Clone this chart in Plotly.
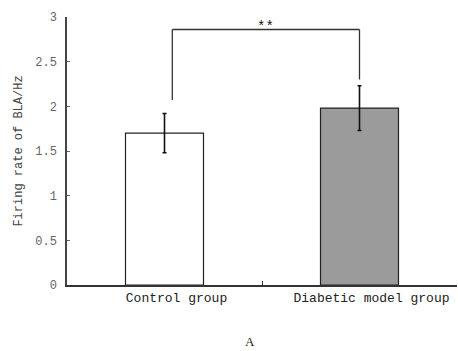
import plotly.graph_objects as go

categories = ["Control group", "Diabetic model group"]
values = [1.70, 1.98]
errors = [0.22, 0.25]
fills = ["white", "#9b9b9b"]
y_ticks = [0, 0.5, 1, 1.5, 2, 2.5, 3]
y_tick_labels = ["0", "0.5", "1", "1.5", "2", "2.5", "3"]
bracket_top = 2.86
bracket_left_bottom = 2.07
bracket_right_bottom = 2.30
sig_label = "**"

font_family = "Liberation Mono, Courier New, monospace"

fig = go.Figure()
fig.add_trace(go.Bar(
    x=categories, y=values, width=0.4,
    marker=dict(color=fills, line=dict(color="#222", width=1.2)),
    error_y=dict(type="data", array=errors, color="#111", thickness=1.6, width=2),
))

# significance bracket
lx, rx = 0.04, 1.0
fig.add_shape(type="line", xref="x", yref="y", x0=lx, x1=lx, y0=bracket_left_bottom, y1=bracket_top,
              line=dict(color="#333", width=1.3))
fig.add_shape(type="line", xref="x", yref="y", x0=lx, x1=rx, y0=bracket_top, y1=bracket_top,
              line=dict(color="#333", width=1.3))
fig.add_shape(type="line", xref="x", yref="y", x0=rx, x1=rx, y0=bracket_right_bottom, y1=bracket_top,
              line=dict(color="#333", width=1.3))
fig.add_annotation(x=(lx + rx) / 2, y=bracket_top, text=sig_label, showarrow=False, yanchor="bottom",
                   yshift=-7, font=dict(family=font_family, size=14, color="#111"))
fig.add_annotation(x=0.47, xref="paper", y=-0.21, yref="paper", text="A", showarrow=False,
                   yanchor="middle", font=dict(family="Liberation Serif, serif", size=13, color="#222"))

fig.update_layout(
    width=458, height=351,
    margin=dict(l=67, r=1, t=17, b=66),
    paper_bgcolor="white", plot_bgcolor="white",
    showlegend=False,
    font=dict(family=font_family, color="#333"),
    xaxis=dict(type="category", range=[-0.5, 1.5], tickson="boundaries", ticks="inside", ticklen=4,
               tickcolor="#333", showline=True, linecolor="#333", linewidth=1.6, showgrid=False,
               ticklabelshift=12,
               tickfont=dict(size=13, color="#222")),
    yaxis=dict(range=[0, 3], tickvals=y_ticks, ticktext=y_tick_labels, ticks="inside", ticklen=3,
               tickcolor="#666", showline=True, linecolor="#444", linewidth=1.5, showgrid=False,
               zeroline=False, tickfont=dict(size=12, color="#666"), ticklabelstandoff=6,
               title=dict(text="Firing rate of BLA/Hz", font=dict(size=12, color="#444"), standoff=10)),
)

fig.write_html("out.html")
